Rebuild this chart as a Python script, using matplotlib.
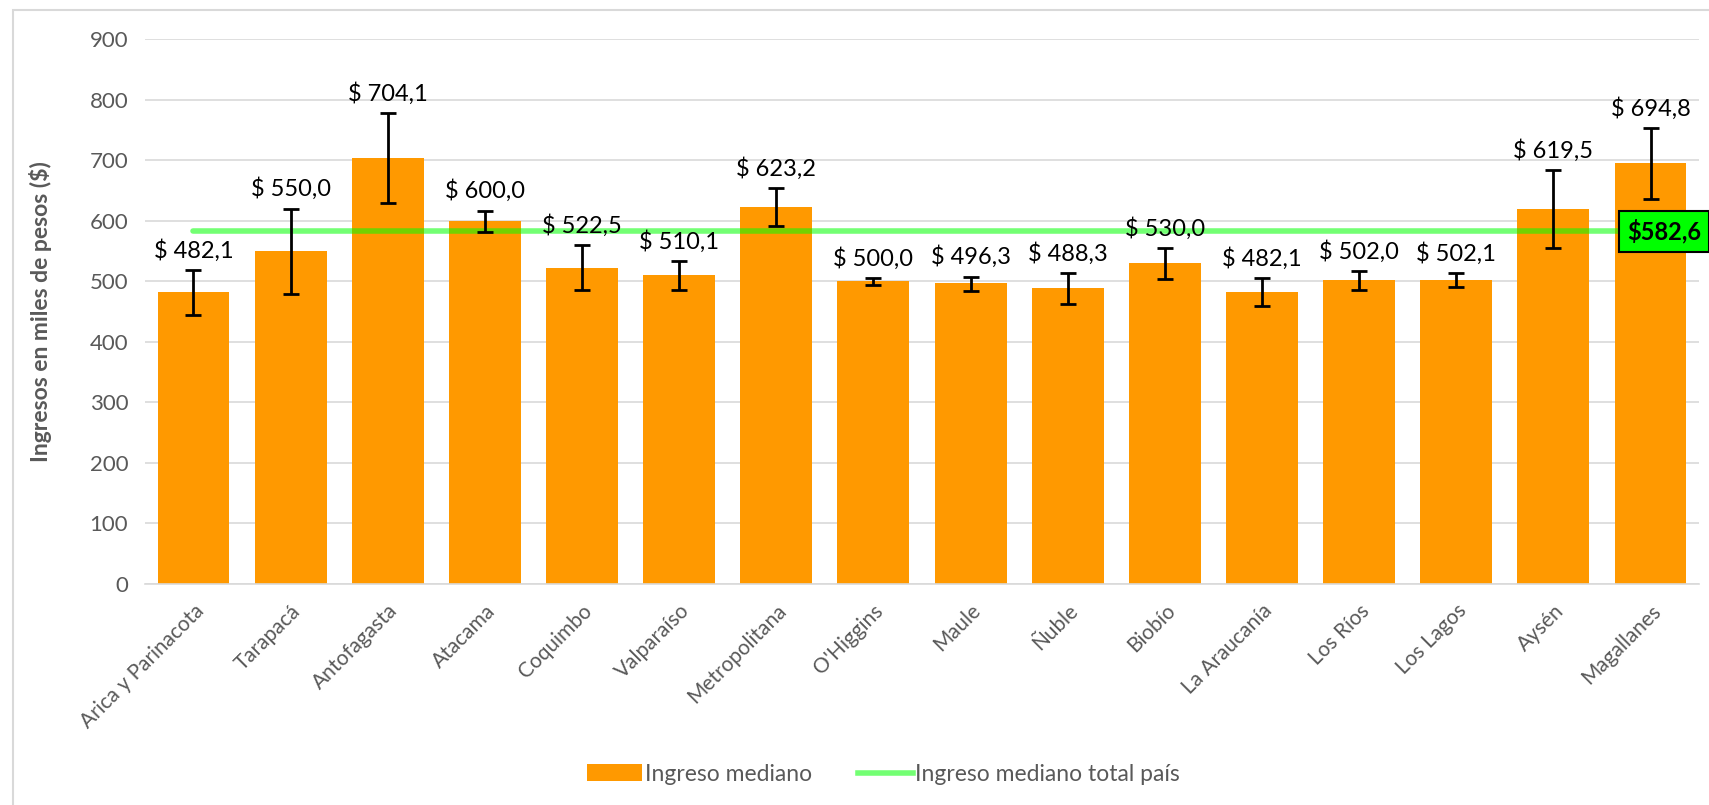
import matplotlib.pyplot as plt
from matplotlib.patches import Rectangle, Patch
from matplotlib.lines import Line2D

regiones = ["Arica y Parinacota", "Tarapacá", "Antofagasta", "Atacama", "Coquimbo",
            "Valparaíso", "Metropolitana", "O'Higgins", "Maule", "Ñuble", "Biobío",
            "La Araucanía", "Los Ríos", "Los Lagos", "Aysén", "Magallanes"]
mediana = [482.1, 550.0, 704.1, 600.0, 522.5, 510.1, 623.2, 500.0, 496.3, 488.3,
           530.0, 482.1, 502.0, 502.1, 619.5, 694.8]
# limites del intervalo
lim_inf = [443.5, 479.5, 629.0, 582.0, 485.0, 485.5, 591.0, 494.5, 484.0, 462.5,
           504.0, 458.5, 485.5, 490.5, 555.0, 635.5]
lim_sup = [519.0, 620.0, 778.0, 616.5, 559.0, 533.5, 654.0, 505.0, 507.5, 513.5,
           555.0, 505.0, 517.0, 513.5, 683.0, 753.5]
total_pais = 582.6

plt.rcParams['font.family'] = ['Lato', 'DejaVu Sans']
gris = "#595959"

fig = plt.figure(figsize=(17.09, 8.05), dpi=100)
ax = fig.add_axes([0.0848, 0.2745, 0.9094, 0.6771])

# borde del area del grafico
fig.patches.append(Rectangle((13 / 1709, -0.1), 2, 1 - 10 / 805 + 0.1, transform=fig.transFigure,
                             fill=False, edgecolor="#D9D9D9", linewidth=1.5))

x = list(range(len(regiones)))
ax.bar(x, mediana, width=0.74, color="#FF9900", zorder=2)
err = [[m - lo for m, lo in zip(mediana, lim_inf)], [hi - m for m, hi in zip(mediana, lim_sup)]]
ax.errorbar(x, mediana, yerr=err, fmt="none", ecolor="black", elinewidth=2, capsize=6,
            capthick=2, zorder=4)

ax.plot(x, [total_pais] * len(x), color="#00FF00", alpha=0.55, linewidth=4, zorder=3,
        solid_capstyle="round")
ax.text(14.76, total_pais, "$" + f"{total_pais:.1f}".replace(".", ","), ha="left", va="center",
        fontsize=17, fontweight="bold", color="black", zorder=6,
        bbox=dict(boxstyle="square,pad=0.35", facecolor="#00FF00", edgecolor="black", linewidth=1.5))

for xi, m, hi in zip(x, mediana, lim_sup):
    ax.annotate("$ " + f"{m:.1f}".replace(".", ","), (xi, hi), xytext=(0, 6),
                textcoords="offset points", ha="center", va="bottom", fontsize=17, color="black")

ax.set_xlim(-0.5, len(regiones) - 0.5)
ax.set_ylim(0, 900)
ax.set_yticks(range(0, 901, 100))
ax.grid(axis="y", color="#D9D9D9", linewidth=1.2, zorder=0)
ax.set_axisbelow(True)
for s in ["top", "right", "left"]:
    ax.spines[s].set_visible(False)
ax.spines["bottom"].set_color("#D9D9D9")
ax.spines["bottom"].set_linewidth(1.2)
ax.tick_params(axis="both", length=0, colors=gris)
ax.tick_params(axis="y", labelsize=16, pad=12)
ax.set_xticks(x)
ax.set_xticklabels(regiones, rotation=45, ha="right", rotation_mode="anchor", fontsize=15)
ax.tick_params(axis="x", pad=12)
ax.set_ylabel("Ingresos en miles de pesos ($)", fontsize=16.5, fontweight="bold", color=gris)
ax.yaxis.set_label_coords(-0.06, 0.5)

handles = [Patch(facecolor="#FF9900"),
           Line2D([], [], color="#00FF00", alpha=0.55, linewidth=4)]
fig.legend(handles, ["Ingreso mediano", "Ingreso mediano total país"], loc="center",
           bbox_to_anchor=(0.517, 0.038), ncol=2, frameon=False, fontsize=16.5,
           handlelength=2.4, handleheight=0.76, columnspacing=2.0, handletextpad=0.1,
           labelcolor=gris)

plt.savefig("out.png", dpi=100)
